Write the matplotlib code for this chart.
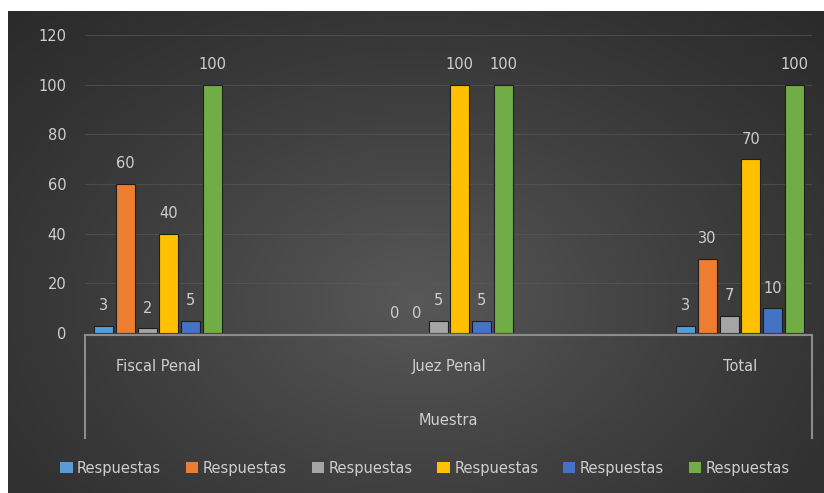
import numpy as np
import matplotlib
matplotlib.use("Agg")
import matplotlib.pyplot as plt
from matplotlib.patches import Patch

# data
categories = ["Fiscal Penal", "Juez Penal", "Total"]
series_names = ["Respuestas"] * 6
s1 = [3, 0, 3]
s2 = [60, 0, 30]
s3 = [2, 5, 7]
s4 = [40, 100, 70]
s5 = [5, 5, 10]
s6 = [100, 100, 100]
all_series = [s1, s2, s3, s4, s5, s6]
y_ticks = [0, 20, 40, 60, 80, 100, 120]

colors = ["#5B9BD5", "#ED7D31", "#A5A5A5", "#FFC000", "#4472C4", "#70AD47"]
text_color = "#cfcfcf"
line_color = "#8c8c8c"

plt.rcParams["font.family"] = ["DejaVu Sans"]

W, H = 824, 493
fig = plt.figure(figsize=(W / 100, H / 100), dpi=100)
fig.patch.set_facecolor("white")

# dark radial gradient background
bg = fig.add_axes([8 / W, 0, 1 - 8 / W, 1 - 11 / H])
yy, xx = np.mgrid[0:1:300j, 0:1:500j]
r = np.sqrt(((xx - 0.5) / 0.75) ** 2 + ((yy - 0.6) / 0.9) ** 2)
r = np.clip(r, 0, 1)
val = (42 + 46 * (1 - r) ** 1.3) / 255.0
img = np.dstack([val, val, val])
bg.imshow(img, aspect="auto", extent=[0, 1, 0, 1], origin="upper")
bg.set_axis_off()

# main chart axes
x0, x1 = 85, 812
y_zero, y_top = 333, 35
ax = fig.add_axes([x0 / W, (H - y_zero) / H, (x1 - x0) / W, (y_zero - y_top) / H])
ax.patch.set_alpha(0)

x = np.arange(len(categories))
pitch = 0.0745
width = 0.065
for i, vals in enumerate(all_series):
    offs = (i - 2.5) * pitch
    bars = ax.bar(x + offs, vals, width, color=colors[i], edgecolor="#1e1e1e",
                  linewidth=0.8, zorder=3, label=series_names[i])
    ax.bar_label(bars, labels=[str(v) for v in vals], padding=9,
                 color=text_color, fontsize=10.5)

ax.set_xlim(-0.251, 2.247)
ax.set_ylim(0, 120)
ax.set_yticks(y_ticks)
ax.set_yticklabels([str(t) for t in y_ticks], color=text_color, fontsize=10.5)
ax.tick_params(axis="y", length=0, pad=13.5)
ax.set_xticks([])
for sp in ax.spines.values():
    sp.set_visible(False)
ax.yaxis.grid(True, color="#5a5a5a", linewidth=0.8, alpha=0.6, zorder=0)

# multi-level category box
tr = ax.transAxes
ax.plot([0, 1], [-0.006, -0.006], transform=tr, color=line_color, lw=1.5, clip_on=False, zorder=4)
ax.plot([0, 0], [-0.006, -0.352], transform=tr, color=line_color, lw=1.5, clip_on=False)
ax.plot([1, 1], [-0.006, -0.352], transform=tr, color=line_color, lw=1.5, clip_on=False)
for xi, cat in zip(x, categories):
    ax.text(xi, -0.114, cat, transform=ax.get_xaxis_transform(), ha="center", va="center",
            color=text_color, fontsize=10.5)
ax.text(0.5, -0.295, "Muestra", transform=tr, ha="center", va="center",
        color=text_color, fontsize=10.5)

handles = [Patch(facecolor=c, edgecolor="none") for c in colors]
fig.legend(handles, series_names, loc="center", ncol=6, frameon=False,
           bbox_to_anchor=(425 / W, 1 - 468 / H), fontsize=10.5,
           labelcolor=text_color, handlelength=0.85, handleheight=0.85,
           handletextpad=0.3, columnspacing=1.7)

fig.savefig("out.png", dpi=100)
